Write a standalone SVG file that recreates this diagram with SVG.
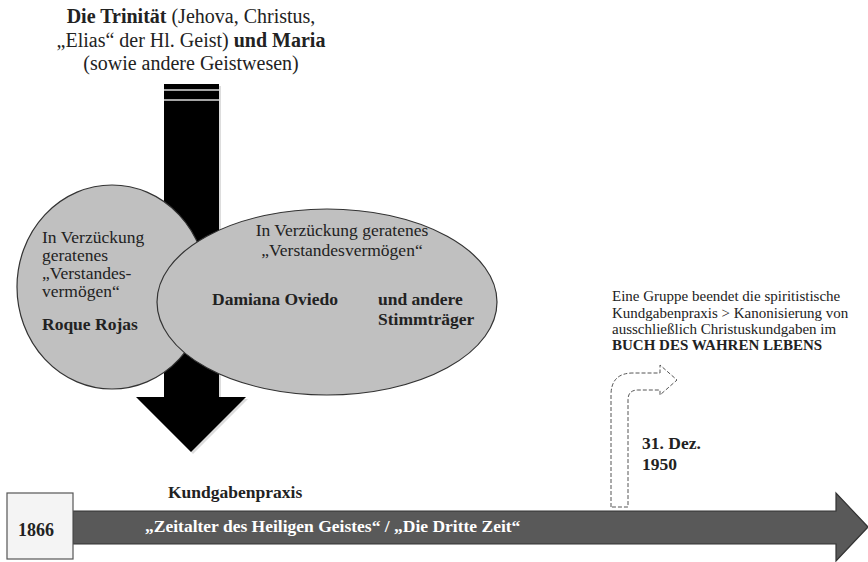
<svg xmlns="http://www.w3.org/2000/svg" width="868" height="562" viewBox="0 0 868 562">
<style>
text{font-family:"Liberation Serif","Times New Roman",serif;fill:#222;}
.b{font-weight:bold;}
.t{font-size:20px;}
.n{font-size:17.5px;}
.s{font-size:15px;}
.ell{fill:#c0c0c0;stroke:#333;stroke-width:1.2;}
</style>
<rect width="868" height="562" fill="#fff"/>
<g id="connectors">
  <g id="down-arrow">
    <polygon points="166,86 221,86 221,399 248,399 193,454 138,399 166,399" fill="#bbb" opacity="0.5"/>
    <polygon points="164,84 219,84 219,397 246,397 191,452 136,397 164,397" fill="#000"/>
    <line x1="164" y1="90" x2="219" y2="90" stroke="#ddd" stroke-width="1.5"/>
    <line x1="164" y1="100" x2="219" y2="100" stroke="#ddd" stroke-width="1.5"/>
  </g>
  <g id="timeline">
    <polygon points="73,511 836,511 836,493 868,527 836,561 836,544 73,544" fill="#595959" stroke="#333" stroke-width="1.2"/>
  </g>
  <g id="bent-arrow">
    <path d="M611,507 L611,395 Q611,373 633,373 L660,373 L660,365 L677,380 L660,395 L660,390 L638,390 Q628,390 628,400 L628,507 Z" fill="#fff" stroke="#555" stroke-width="1" stroke-dasharray="4 2"/>
  </g>
</g>
<g id="title">
  <text class="t" x="191" y="23" text-anchor="middle"><tspan class="b">Die Trinität</tspan> (Jehova, Christus,</text>
  <text class="t" x="191" y="47" text-anchor="middle">„Elias“ der Hl. Geist) <tspan class="b">und Maria</tspan></text>
  <text class="t" x="191" y="70" text-anchor="middle">(sowie andere Geistwesen)</text>
</g>
<g id="roque-rojas">
  <ellipse class="ell" cx="112" cy="287" rx="95" ry="102"/>
  <text class="n" x="42" y="243">In Verzückung</text>
  <text class="n" x="42" y="261">geratenes</text>
  <text class="n" x="42" y="279">„Verstandes-</text>
  <text class="n" x="42" y="297">vermögen“</text>
  <text class="n b" x="42" y="330">Roque Rojas</text>
</g>
<g id="damiana-oviedo">
  <ellipse class="ell" cx="327" cy="302" rx="170" ry="93"/>
  <text class="n" x="342" y="236" text-anchor="middle">In Verzückung geratenes</text>
  <text class="n" x="342" y="256" text-anchor="middle">„Verstandesvermögen“</text>
  <text class="n b" x="212" y="305">Damiana Oviedo</text>
  <text class="n b" x="378" y="305">und andere</text>
  <text class="n b" x="378" y="325">Stimmträger</text>
</g>
<g id="kundgabenpraxis">
  <text class="n b" x="168" y="498">Kundgabenpraxis</text>
</g>
<g id="buch">
  <text class="s" x="612" y="301">Eine Gruppe beendet die spiritistische</text>
  <text class="s" x="612" y="318">Kundgabenpraxis &gt; Kanonisierung von</text>
  <text class="s" x="612" y="334">ausschließlich Christuskundgaben im</text>
  <text class="s b" x="612" y="350">BUCH DES WAHREN LEBENS</text>
</g>
<g id="date-1950">
  <text class="n b" x="642" y="449">31. Dez.</text>
  <text class="n b" x="642" y="470">1950</text>
</g>
<g id="zeitalter">
  <text class="n b" x="145" y="532" style="fill:#fff">„Zeitalter des Heiligen Geistes“ / „Die Dritte Zeit“</text>
</g>
<g id="year-1866">
  <rect x="7" y="493" width="66" height="66" fill="#f4f4f4" stroke="#555" stroke-width="1.2"/>
  <text class="n b" x="36" y="536" text-anchor="middle" style="font-size:18px">1866</text>
</g>
</svg>
